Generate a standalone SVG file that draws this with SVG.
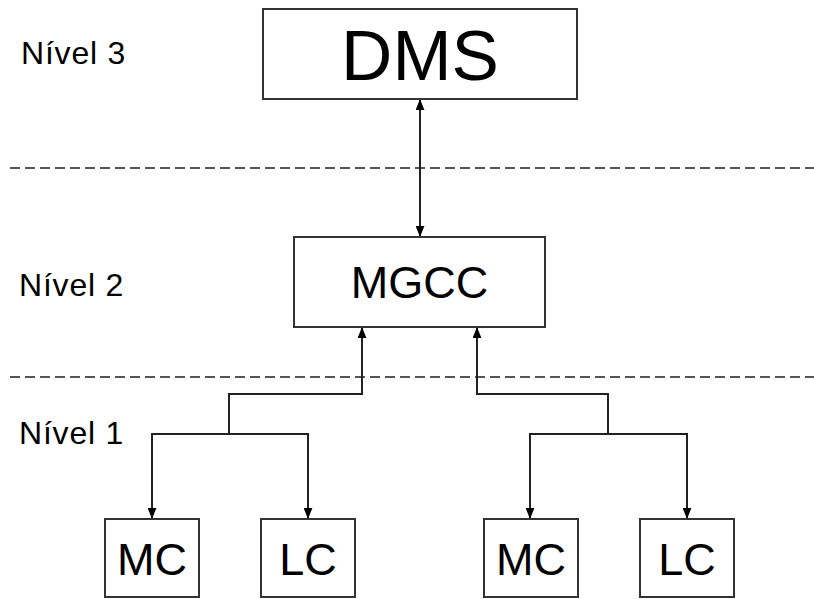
<svg xmlns="http://www.w3.org/2000/svg" width="814" height="599" viewBox="0 0 814 599">
  <style>
    .box { fill: #fff; stroke: #333; stroke-width: 2; }
    .lbl { font-family: "Liberation Sans", Arial, sans-serif; fill: #000; }
    .lvl { font-family: "Liberation Sans", Arial, sans-serif; font-size: 32px; letter-spacing: 0.8px; fill: #000; }
    .sep { stroke: #555; stroke-width: 2; stroke-dasharray: 10 5; fill: none; }
    .con { stroke: #222; stroke-width: 2; fill: none; }
  </style>
  <defs>
    <marker id="arr" viewBox="0 0 10 8" refX="10" refY="4" markerWidth="11" markerHeight="9" markerUnits="userSpaceOnUse" orient="auto-start-reverse">
      <path d="M0,0 L10,4 L0,8 z" fill="#000"/>
    </marker>
  </defs>
  <rect width="814" height="599" fill="#fff"/>

  <g id="levels">
    <text class="lvl" x="21" y="64">Nível 3</text>
    <text class="lvl" x="19" y="296">Nível 2</text>
    <text class="lvl" x="19" y="444">Nível 1</text>
    <line class="sep" x1="10" y1="168" x2="814" y2="168"/>
    <line class="sep" x1="10" y1="377" x2="814" y2="377"/>
  </g>

  <g id="connectors">
    <path class="con" d="M420,237 V99" marker-start="url(#arr)" marker-end="url(#arr)"/>
    <path class="con" d="M229,434 V394 H362 V327" marker-end="url(#arr)"/>
    <path class="con" d="M229,434 H152 V519" marker-end="url(#arr)"/>
    <path class="con" d="M229,434 H308 V519" marker-end="url(#arr)"/>
    <path class="con" d="M608,434 V394 H477 V327" marker-end="url(#arr)"/>
    <path class="con" d="M608,434 H530 V519" marker-end="url(#arr)"/>
    <path class="con" d="M608,434 H687 V519" marker-end="url(#arr)"/>
  </g>

  <g id="dms">
    <rect class="box" x="263" y="9" width="314" height="90"/>
    <text class="lbl" x="420" y="80" font-size="71" text-anchor="middle">DMS</text>
  </g>
  <g id="mgcc">
    <rect class="box" x="294" y="237" width="251" height="90"/>
    <text class="lbl" x="419.5" y="298" font-size="45" text-anchor="middle">MGCC</text>
  </g>
  <g id="mc1">
    <rect class="box" x="105" y="519" width="94" height="78"/>
    <text class="lbl" x="152" y="575" font-size="45" text-anchor="middle">MC</text>
  </g>
  <g id="lc1">
    <rect class="box" x="261" y="519" width="94" height="78"/>
    <text class="lbl" x="308" y="575" font-size="45" text-anchor="middle">LC</text>
  </g>
  <g id="mc2">
    <rect class="box" x="484" y="519" width="94" height="78"/>
    <text class="lbl" x="531" y="575" font-size="45" text-anchor="middle">MC</text>
  </g>
  <g id="lc2">
    <rect class="box" x="640" y="519" width="94" height="78"/>
    <text class="lbl" x="687" y="575" font-size="45" text-anchor="middle">LC</text>
  </g>
</svg>
